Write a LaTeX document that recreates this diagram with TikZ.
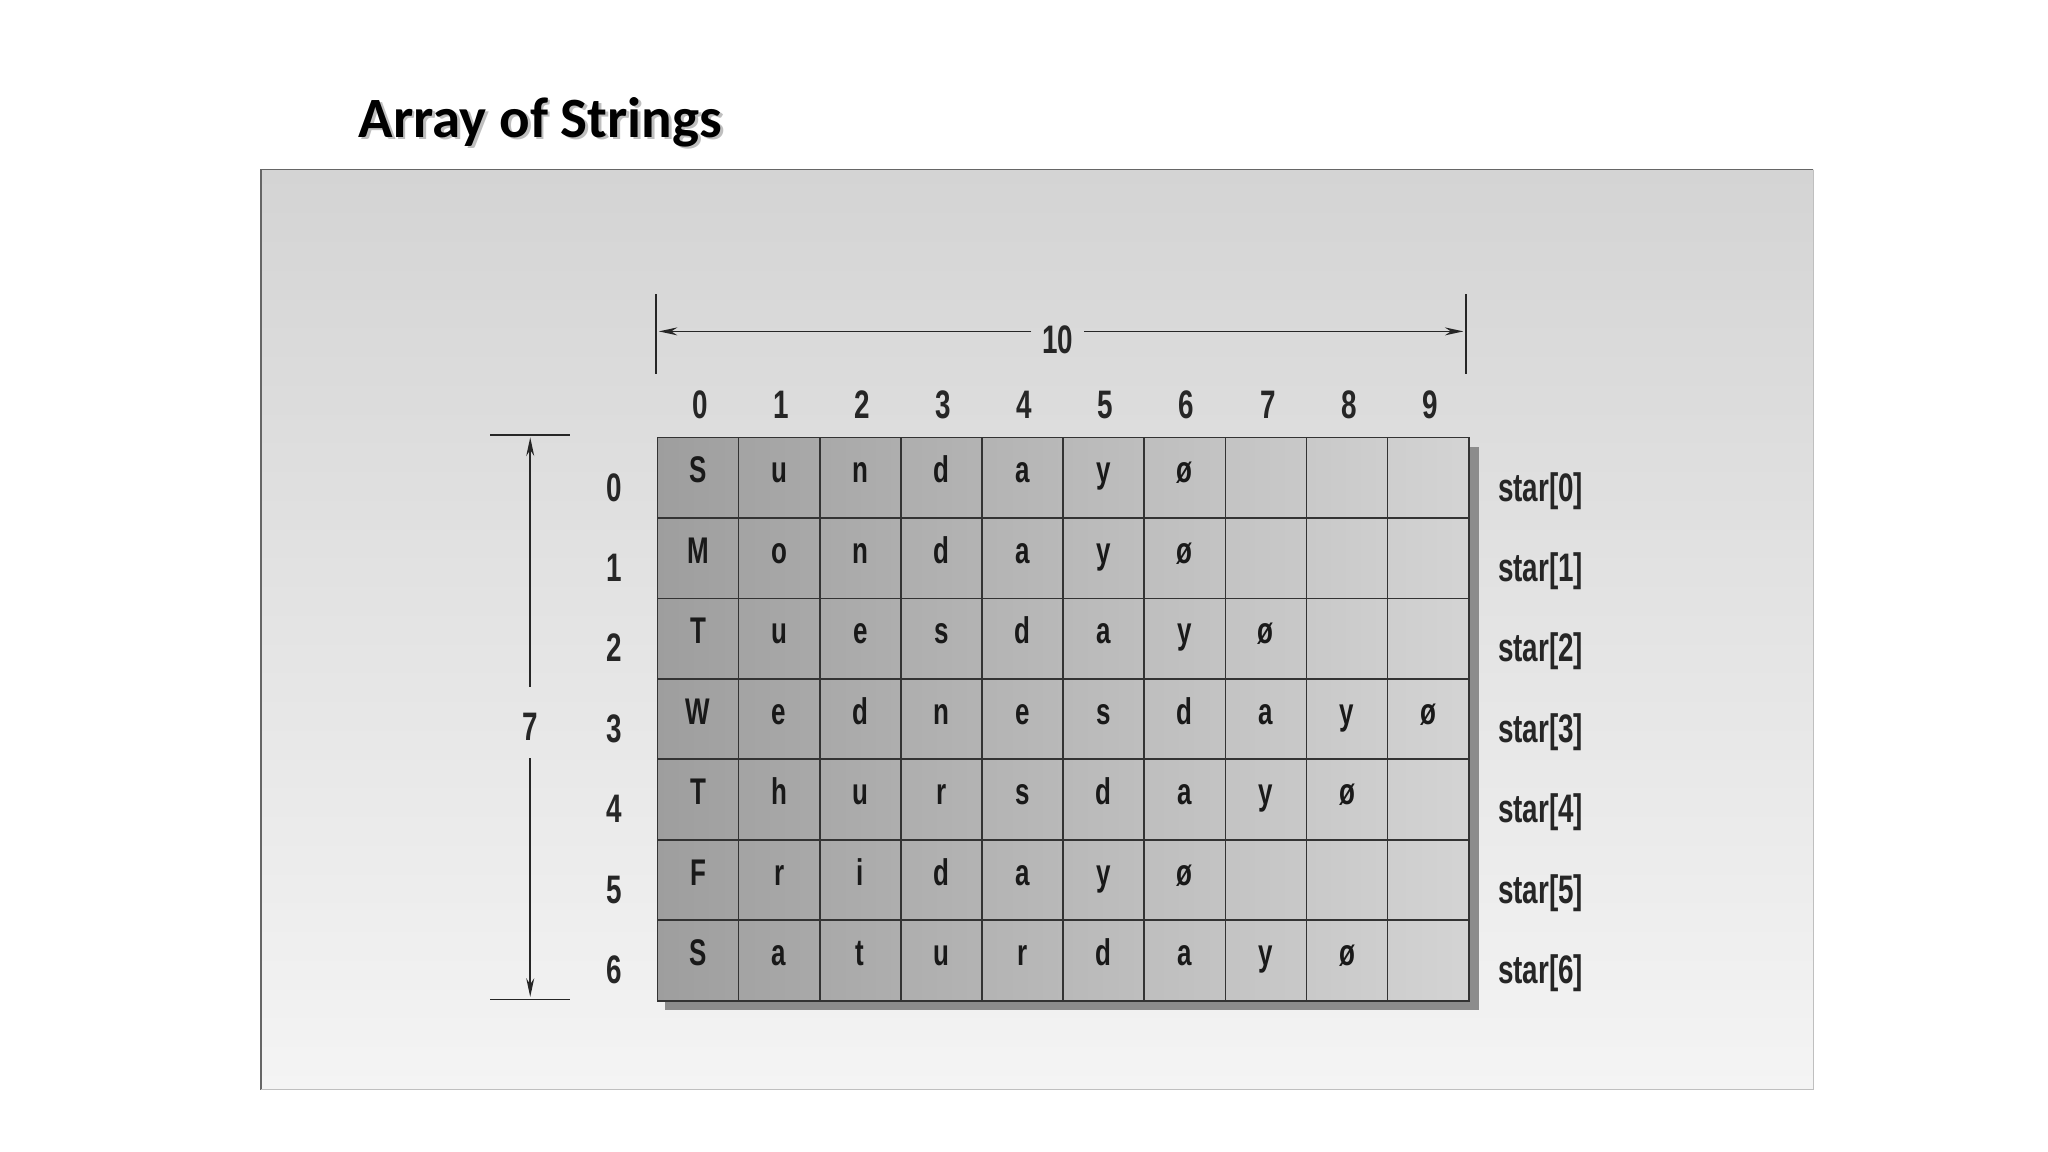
\documentclass[tikz,border=0pt]{standalone}
\usepackage{fontspec}
\usetikzlibrary{arrows.meta}
\newfontfamily\cf[FakeStretch=0.7,BoldFont={Liberation Sans Bold},BoldFeatures={FakeStretch=0.7}]{Liberation Sans}
\newfontfamily\tf{Carlito}
\definecolor{pantop}{HTML}{D4D4D4}
\definecolor{panbot}{HTML}{F4F4F4}
\tikzset{
  lab/.style={font=\cf\bfseries\fontsize{30}{30}\selectfont, inner sep=0pt, text=black!85},
  cellbox/.style={draw=black!80, line width=1.3pt, minimum width=61.2pt, minimum height=60.7pt, inner sep=0pt, text height=16pt, text depth=8pt, font=\cf\bfseries\fontsize{28}{28}\selectfont, text=black!90},
  dim/.style={line width=1.2pt, draw=black!85},
  tick/.style={line width=1.4pt, draw=black!85}
}
\begin{document}
\begin{tikzpicture}[x=1pt,y=-1pt]
\useasboundingbox (0,0) rectangle (1545,869);
\fill[white] (0,0) rectangle (1545,869);
% title
\node[font=\tf\bfseries\fontsize{43}{43}\selectfont, text=black!25, anchor=west] at (269,94) {Array of Strings};
\node[font=\tf\bfseries\fontsize{43}{43}\selectfont, anchor=west] (title) at (267,92) {Array of Strings};
% panel
\shade[top color=pantop, bottom color=panbot] (197,128) rectangle (1368,822);
\draw[black!60, line width=1pt] (197,822) -- (197,128) -- (1368,128);
\draw[black!25, line width=1pt] (1368,128) -- (1368,822) -- (197,822);
% grid shadow
\fill[black!45] (502,337) rectangle (1116,762);
% grid fill
\shade[left color=black!38, right color=black!17] (496,330) rectangle (1108,755);
% cells
\foreach \r/\w in {0/{S,u,n,d,a,y,ø, , , },1/{M,o,n,d,a,y,ø, , , },2/{T,u,e,s,d,a,y,ø, , },3/{W,e,d,n,e,s,d,a,y,ø},4/{T,h,u,r,s,d,a,y,ø, },5/{F,r,i,d,a,y,ø, , , },6/{S,a,t,u,r,d,a,y,ø, }}{
  \foreach \ch [count=\c from 0] in \w {
    \node[cellbox] (c\r-\c) at ({496+30.6+61.2*\c},{330+30.35+60.7*\r}) {\ch};
  }
  \node[lab, anchor=base] (row\r) at (463,{378+60.7*\r}) {\r};
  \node[lab, anchor=base west] (star\r) at (1130,{378+60.7*\r}) {star[\r]};
}
\foreach \c in {0,...,9}{\node[lab, anchor=base] (col\c) at ({528+61.2*\c},316) {\c};}
% dimension 10
\coordinate (tl1) at (495,222); \coordinate (tl2) at (495,282);
\coordinate (tr1) at (1106,222); \coordinate (tr2) at (1106,282);
\draw[tick] (tl1) -- (tl2); \draw[tick] (tr1) -- (tr2);
\node[lab] (ten) at (798,256) {10};
\coordinate (al) at (497,250); \coordinate (ar) at (1104,250);
\draw[dim, -{Stealth[length=14pt,width=6pt]}] (ten.west) ++(-8,-6) -- (al);
\draw[dim, -{Stealth[length=14pt,width=6pt]}] (ten.east) ++(8,-6) -- (ar);
% dimension 7
\coordinate (s1) at (370,328); \coordinate (s2) at (430,328);
\coordinate (b1) at (370,754); \coordinate (b2) at (430,754);
\draw[tick] (s1) -- (s2); \draw[tick] (b1) -- (b2);
\node[lab] (seven) at (400,548) {7};
\coordinate (at) at (400,330); \coordinate (ab) at (400,752);
\draw[dim, -{Stealth[length=14pt,width=6pt]}] (400,518) -- (at);
\draw[dim, -{Stealth[length=14pt,width=6pt]}] (400,572) -- (ab);
\end{tikzpicture}
\end{document}
